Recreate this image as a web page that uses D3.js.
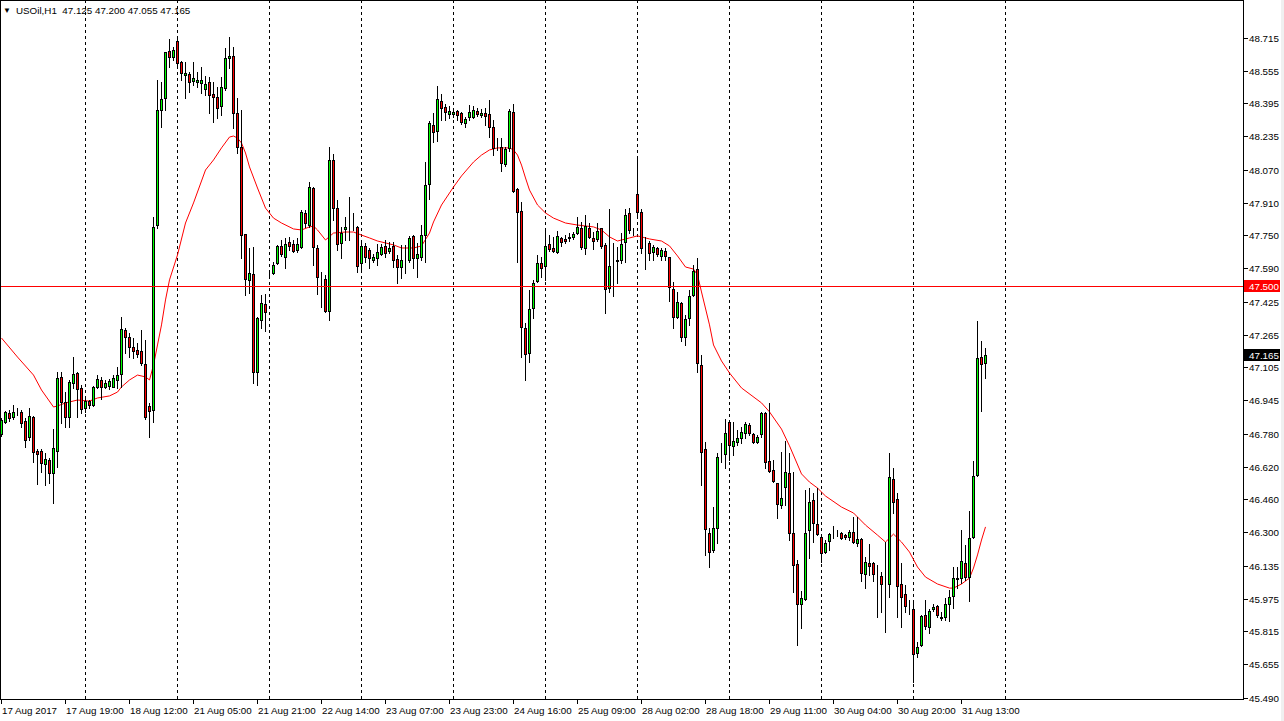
<!DOCTYPE html>
<html><head><meta charset="utf-8">
<script src="https://cdn.jsdelivr.net/npm/d3@7"></script>
<style>html,body{margin:0;padding:0;background:#fff;overflow:hidden}text{font-family:"Liberation Sans",Arial,sans-serif;white-space:pre}</style>
</head><body>
<svg id="c" width="1284" height="721"></svg>
<script>
// ---- DATA (USOil, H1) ----
const openP = [46.780,46.839,46.883,46.863,46.893,46.888,46.844,46.766,46.863,46.697,46.697,46.633,46.653,46.589,46.697,47.059,46.936,46.863,47.029,47.078,47.005,46.907,46.941,46.922,47.010,47.044,47.010,47.015,47.010,47.044,47.073,47.288,47.254,47.205,47.191,47.186,47.122,46.917,46.898,47.801,48.363,48.422,48.652,48.622,48.700,48.598,48.534,48.539,48.505,48.500,48.495,48.466,48.500,48.442,48.427,48.383,48.471,48.617,48.627,48.349,48.182,47.757,47.533,47.562,47.083,47.337,47.415,47.567,47.567,47.616,47.699,47.645,47.718,47.709,47.679,47.694,47.860,47.801,47.982,47.689,47.542,47.537,47.381,48.119,47.884,47.714,47.782,47.801,47.801,47.792,47.616,47.699,47.679,47.631,47.640,47.660,47.699,47.674,47.699,47.635,47.596,47.635,47.630,47.748,47.640,47.645,47.752,48.002,48.290,48.261,48.407,48.378,48.344,48.344,48.358,48.349,48.300,48.329,48.329,48.358,48.339,48.349,48.344,48.280,48.178,48.182,48.099,48.178,48.354,47.977,47.870,47.298,47.176,47.396,47.528,47.616,47.601,47.709,47.689,47.669,47.738,47.733,47.743,47.743,47.762,47.787,47.689,47.787,47.738,47.733,47.787,47.704,47.494,47.621,47.625,47.630,47.718,47.860,47.767,47.953,47.865,47.694,47.714,47.669,47.689,47.650,47.674,47.645,47.489,47.352,47.420,47.254,47.347,47.459,47.586,47.117,46.707,46.296,46.213,46.321,46.678,46.682,46.839,46.721,46.741,46.760,46.785,46.824,46.780,46.741,46.780,46.883,46.648,46.604,46.541,46.433,46.521,46.589,46.296,46.145,45.949,45.974,46.311,46.458,46.340,46.276,46.204,46.257,46.286,46.301,46.296,46.286,46.276,46.301,46.247,46.267,46.096,46.150,46.150,46.086,46.086,46.037,46.047,46.560,46.462,46.047,45.998,45.939,45.925,45.710,45.749,45.896,45.837,45.925,45.939,45.886,45.886,45.949,45.988,46.071,46.076,46.150,46.081,46.277,46.580,47.156,47.125];
const highP = [46.858,46.893,46.898,46.922,46.907,46.898,46.858,46.907,46.866,46.707,46.707,46.687,46.663,46.805,47.083,47.083,46.985,47.044,47.156,47.083,47.019,46.956,46.946,47.015,47.068,47.059,47.044,47.049,47.068,47.107,47.352,47.298,47.274,47.249,47.225,47.288,47.239,46.932,47.840,48.510,48.500,48.647,48.710,48.671,48.720,48.603,48.598,48.549,48.598,48.549,48.573,48.529,48.524,48.500,48.476,48.524,48.666,48.720,48.671,48.422,48.363,47.757,47.689,47.694,47.352,47.459,47.464,47.577,47.621,47.704,47.728,47.738,47.743,47.728,47.738,47.875,47.875,48.011,47.987,47.704,47.572,47.557,48.182,48.148,47.923,47.792,47.840,47.938,47.860,47.796,47.728,47.714,47.689,47.660,47.709,47.709,47.728,47.718,47.718,47.655,47.704,47.704,47.748,47.752,47.714,47.801,48.109,48.310,48.349,48.480,48.441,48.393,48.383,48.368,48.363,48.354,48.329,48.388,48.383,48.373,48.368,48.373,48.412,48.315,48.226,48.226,48.182,48.368,48.393,47.982,47.914,47.322,47.484,47.533,47.655,47.645,47.777,47.752,47.743,47.772,47.743,47.752,47.762,47.767,47.840,47.816,47.850,47.811,47.767,47.811,47.787,47.714,47.880,47.714,47.694,47.762,47.880,47.884,47.787,48.133,47.880,47.743,47.723,47.704,47.694,47.689,47.689,47.645,47.523,47.474,47.425,47.362,47.484,47.606,47.640,47.166,46.741,46.321,46.423,46.687,46.736,46.853,46.839,46.839,46.800,46.815,46.839,46.834,46.785,46.775,46.888,46.888,46.932,46.653,46.541,46.692,46.746,46.687,46.594,46.164,46.013,46.506,46.516,46.492,46.516,46.286,46.262,46.296,46.330,46.311,46.301,46.291,46.311,46.374,46.374,46.272,46.179,46.243,46.155,46.140,46.106,46.252,46.687,46.614,46.492,46.150,46.042,45.969,45.969,45.764,45.896,45.969,45.925,45.949,45.944,45.910,45.979,46.018,46.130,46.130,46.311,46.238,46.404,46.648,47.332,47.235,47.200];
const lowP = [46.770,46.834,46.844,46.853,46.873,46.815,46.717,46.751,46.643,46.536,46.594,46.531,46.541,46.443,46.619,46.834,46.815,46.815,47.005,46.863,46.883,46.888,46.907,46.917,47.005,46.951,47.005,47.000,47.010,47.005,47.010,47.176,47.156,47.151,47.156,47.117,46.853,46.766,46.839,47.787,48.280,48.363,48.573,48.608,48.583,48.510,48.422,48.451,48.485,48.476,48.446,48.437,48.349,48.305,48.324,48.339,48.461,48.569,48.275,48.153,47.640,47.459,47.469,47.029,47.019,47.298,47.283,47.552,47.562,47.611,47.650,47.591,47.679,47.669,47.669,47.689,47.792,47.792,47.606,47.464,47.401,47.376,47.337,47.826,47.679,47.640,47.728,47.728,47.777,47.572,47.582,47.621,47.591,47.621,47.606,47.655,47.645,47.665,47.596,47.518,47.542,47.567,47.621,47.591,47.547,47.630,47.621,47.928,48.207,48.212,48.315,48.315,48.324,48.329,48.315,48.295,48.280,48.315,48.324,48.334,48.329,48.290,48.231,48.143,48.168,48.065,48.089,48.163,47.962,47.621,47.156,47.044,47.132,47.347,47.523,47.547,47.533,47.674,47.669,47.665,47.699,47.714,47.723,47.733,47.757,47.684,47.660,47.738,47.684,47.723,47.689,47.371,47.474,47.454,47.518,47.616,47.621,47.762,47.752,47.850,47.665,47.586,47.630,47.630,47.650,47.630,47.630,47.430,47.298,47.347,47.235,47.215,47.313,47.454,47.083,46.531,46.189,46.130,46.204,46.247,46.643,46.614,46.653,46.678,46.726,46.736,46.760,46.775,46.736,46.736,46.766,46.614,46.594,46.545,46.370,46.418,46.433,46.262,46.008,45.749,45.832,45.969,46.174,46.252,46.286,46.155,46.198,46.213,46.272,46.281,46.267,46.267,46.262,46.247,46.233,46.062,46.027,46.091,46.062,45.886,45.910,45.812,45.983,46.394,45.886,45.837,45.910,45.900,45.568,45.690,45.744,45.827,45.808,45.915,45.886,45.871,45.871,45.866,45.930,46.027,46.052,46.067,45.964,46.272,46.575,46.893,47.055];
const closeP = [46.848,46.888,46.858,46.888,46.893,46.834,46.751,46.868,46.692,46.682,46.638,46.658,46.589,46.712,47.054,46.936,46.863,47.034,47.073,47.000,46.902,46.941,46.922,47.010,47.049,47.010,47.029,47.039,47.054,47.068,47.293,47.254,47.205,47.186,47.171,47.127,46.863,46.892,47.791,48.363,48.417,48.647,48.622,48.657,48.593,48.544,48.544,48.500,48.520,48.510,48.510,48.490,48.437,48.427,48.373,48.476,48.617,48.627,48.349,48.182,47.752,47.537,47.567,47.083,47.347,47.420,47.376,47.567,47.606,47.699,47.660,47.709,47.699,47.674,47.709,47.865,47.811,47.987,47.694,47.547,47.542,47.381,48.119,47.884,47.709,47.762,47.792,47.801,47.801,47.601,47.699,47.645,47.640,47.645,47.669,47.694,47.665,47.689,47.630,47.596,47.630,47.635,47.738,47.640,47.660,47.752,47.997,48.300,48.256,48.417,48.373,48.354,48.358,48.354,48.339,48.305,48.319,48.354,48.363,48.344,48.349,48.334,48.280,48.178,48.178,48.104,48.173,48.358,47.967,47.865,47.303,47.171,47.391,47.518,47.616,47.591,47.699,47.684,47.674,47.748,47.718,47.723,47.738,47.757,47.792,47.694,47.796,47.743,47.723,47.772,47.699,47.489,47.601,47.621,47.630,47.709,47.850,47.777,47.767,47.865,47.689,47.694,47.665,47.694,47.660,47.679,47.650,47.498,47.352,47.425,47.254,47.342,47.454,47.577,47.127,46.692,46.316,46.204,46.321,46.668,46.678,46.785,46.726,46.746,46.761,46.790,46.829,46.785,46.741,46.766,46.883,46.643,46.599,46.550,46.438,46.467,46.594,46.296,46.140,45.949,45.979,46.296,46.448,46.345,46.291,46.198,46.247,46.291,46.286,46.301,46.272,46.276,46.301,46.252,46.267,46.101,46.155,46.135,46.096,46.086,46.047,46.037,46.570,46.448,46.037,45.983,45.939,45.939,45.705,45.739,45.891,45.842,45.915,45.935,45.896,45.881,45.949,45.983,46.076,46.076,46.159,46.081,46.272,46.575,47.151,47.122,47.165];

// Moving average (red line) read at sampled bars
const maBar = [0,4,8,10,13,14,16,19,22,24,27,29,30,32,34,36,37,38,39,40,41,42,44,46,48,51,53,55,57,58,59,60,61,62,64,66,68,70,73,75,77,78,79,81,83,86,88,90,92,94,98,100,103,105,107,108,110,113,115,118,120,122,124,127,128,129,130,131,132,134,136,138,141,144,148,150,152,154,157,159,162,165,167,169,171,173,174,175,177,178,180,182,185,190,192,195,197,200,202,204,206,210,213,216,219,221,223,225,227,229,231,234,237,238,240,242,243,244,245,246];
const maVal = [47.249,47.156,47.068,46.995,46.912,46.917,46.932,46.946,46.941,46.956,46.966,46.985,47.010,47.044,47.068,47.059,47.044,47.117,47.215,47.313,47.435,47.533,47.655,47.811,47.909,48.070,48.119,48.178,48.231,48.236,48.226,48.202,48.153,48.085,47.982,47.884,47.835,47.811,47.782,47.777,47.792,47.796,47.777,47.728,47.762,47.767,47.767,47.752,47.738,47.723,47.704,47.689,47.689,47.699,47.762,47.816,47.899,47.987,48.041,48.109,48.143,48.168,48.178,48.178,48.168,48.143,48.094,48.031,47.972,47.899,47.860,47.835,47.811,47.801,47.792,47.777,47.743,47.723,47.738,47.748,47.733,47.723,47.699,47.650,47.596,47.586,47.557,47.474,47.313,47.215,47.137,47.078,47.005,46.932,46.888,46.804,46.722,46.585,46.545,46.516,46.477,46.423,46.394,46.335,46.286,46.252,46.291,46.252,46.203,46.130,46.081,46.047,46.027,46.027,46.047,46.076,46.125,46.189,46.262,46.326];

const levelLine = 47.500;
const priceTicks = ["48.715","48.555","48.395","48.235","48.070","47.910","47.750","47.590","47.425","47.265","47.105","46.945","46.780","46.620","46.460","46.300","46.135","45.975","45.815","45.655","45.490"];
const timeLabels = ["17 Aug 2017","17 Aug 19:00","18 Aug 12:00","21 Aug 05:00","21 Aug 21:00","22 Aug 14:00","23 Aug 07:00","23 Aug 23:00","24 Aug 16:00","25 Aug 09:00","28 Aug 02:00","28 Aug 18:00","29 Aug 11:00","30 Aug 04:00","30 Aug 20:00","31 Aug 13:00"];
const timeLabelBar = [0,16,32,48,64,80,96,112,128,144,160,176,192,208,224,240];
const gridBar = [21,44,67,90,113,136,159,182,205,228,251];
const symbolTitle = "USOil,H1";

// ---- DRAW ----
const svg = d3.select("#c");
const plotR = 1243, plotB = 699;
const x = d3.scaleLinear().domain([0, 246]).range([1, 985]);
const y = d3.scaleLinear().domain([45.490, 48.715]).range([698, 38]);
const px = v => Math.round(x(v));
const py = v => Math.round(y(v));
const pyl = v => Math.round(y(v) - 0.5);

svg.append("rect").attr("width",1284).attr("height",721).attr("fill","#fff");
svg.append("rect").attr("x",1281).attr("y",0).attr("width",3).attr("height",721).attr("fill","#f0f0f0");

// grid (dashed vertical)
svg.append("g").selectAll("line").data(gridBar).join("line")
  .attr("x1", d => px(d)+0.5).attr("x2", d => px(d)+0.5)
  .attr("y1", 0).attr("y2", plotB)
  .attr("stroke","#000").attr("stroke-width",1).attr("stroke-dasharray","3,3")
  .attr("shape-rendering","crispEdges");

// MA
const maData = maBar.map((b,i)=>[b, maVal[i]]);
svg.append("path").datum(maData)
  .attr("d", d3.line().x(d=>x(d[0])+0.5).y(d=>y(d[1])))
  .attr("fill","none").attr("stroke","#ff0000").attr("stroke-width",1);

// candles
const idx = d3.range(openP.length);
const cg = svg.append("g").attr("shape-rendering","crispEdges");
cg.selectAll("line").data(idx).join("line")
  .attr("x1", i=>px(i)+0.5).attr("x2", i=>px(i)+0.5)
  .attr("y1", i=>py(highP[i])).attr("y2", i=>py(lowP[i])+1)
  .attr("stroke","#000").attr("stroke-width",1);
cg.selectAll("rect").data(idx).join("rect")
  .attr("x", i=>px(i)-0.5).attr("width",2)
  .attr("y", i=>Math.min(py(openP[i]),py(closeP[i]))+0.5)
  .attr("height", i=>Math.abs(py(openP[i])-py(closeP[i])))
  .attr("fill", i=> closeP[i]>openP[i] ? "#00ff00" : (closeP[i]<openP[i] ? "#ff0000" : "none"))
  .attr("stroke","#000").attr("stroke-width",1);

// level line (on top)
svg.append("rect").attr("x",0).attr("width",plotR).attr("y",pyl(levelLine)).attr("height",1)
  .attr("fill","#ff0000").attr("shape-rendering","crispEdges");

// frame
svg.append("rect").attr("x",0.5).attr("y",0.5).attr("width",plotR).attr("height",plotB)
  .attr("fill","none").attr("stroke","#000").attr("stroke-width",1).attr("shape-rendering","crispEdges");

// price axis
const pa = svg.append("g");
priceTicks.forEach(t=>{
  const yy = py(+t);
  pa.append("line").attr("x1",plotR+0.5).attr("x2",plotR+4.5).attr("y1",yy+0.5).attr("y2",yy+0.5).attr("stroke","#000").attr("shape-rendering","crispEdges");
  pa.append("text").attr("x",1249).attr("y",yy+4).attr("font-size","9.8px").attr("fill","#000").text(t);
});
// level label
const ly = pyl(levelLine);
pa.append("rect").attr("x",1244).attr("y",ly-6).attr("width",36).attr("height",12).attr("fill","#ff0000");
pa.append("text").attr("x",1249).attr("y",ly+4).attr("font-size","9.8px").attr("fill","#fff").text(levelLine.toFixed(3));
// last price label
const lastC = closeP[closeP.length-1];
const cy = pyl(lastC);
pa.append("rect").attr("x",1244).attr("y",cy-6).attr("width",36).attr("height",12).attr("fill","#000");
pa.append("text").attr("x",1249).attr("y",cy+4).attr("font-size","9.8px").attr("fill","#fff").text(lastC.toFixed(3));

// time axis
const ta = svg.append("g");
timeLabels.forEach((t,k)=>{
  const xx = px(timeLabelBar[k]);
  ta.append("line").attr("x1",xx+0.5).attr("x2",xx+0.5).attr("y1",plotB).attr("y2",plotB+5).attr("stroke","#000").attr("shape-rendering","crispEdges");
  ta.append("text").attr("x",xx+1).attr("y",714).attr("font-size","9.8px").attr("fill","#000").text(t);
});

// header
const n = openP.length-1;
svg.append("text").attr("x",3).attr("y",13).attr("font-size","8px").attr("fill","#000").text("▼");
svg.append("text").attr("x",16).attr("y",14).attr("font-size","9.8px").attr("fill","#000")
  .text(symbolTitle+"  "+[openP[n],highP[n],lowP[n],closeP[n]].map(v=>v.toFixed(3)).join(" "));
</script>
</body></html>
